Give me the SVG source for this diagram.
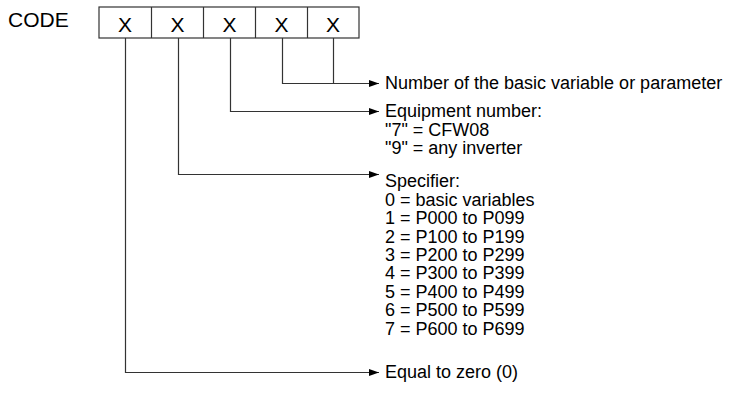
<svg xmlns="http://www.w3.org/2000/svg" width="732" height="399" viewBox="0 0 732 399">
<defs>
<style>
.t{font-family:"Liberation Sans",Arial,sans-serif;font-size:18px;fill:#000}
.x{font-family:"Liberation Sans",Arial,sans-serif;font-size:21px;fill:#000;text-anchor:middle}
.c{fill:none;stroke:#333;stroke-width:1.2}
.box{fill:#fff;stroke:#333;stroke-width:1.2}
</style>
<marker id="ah" viewBox="0 0 10 7" refX="10" refY="3.5" markerWidth="10" markerHeight="7" markerUnits="userSpaceOnUse" orient="auto">
<path d="M0,0 L10,3.5 L0,7 Z" fill="#000"/>
</marker>
</defs>
<rect width="732" height="399" fill="#fff"/>
<text class="t" x="8" y="27" style="font-size:21px">CODE</text>
<g id="code-box">
<rect class="box" x="99" y="7" width="260" height="31"/>
<line class="c" x1="151.5" y1="7" x2="151.5" y2="38"/>
<line class="c" x1="203.5" y1="7" x2="203.5" y2="38"/>
<line class="c" x1="255.5" y1="7" x2="255.5" y2="38"/>
<line class="c" x1="307.5" y1="7" x2="307.5" y2="38"/>
<text class="x" x="125" y="32">X</text>
<text class="x" x="177.5" y="32">X</text>
<text class="x" x="229.5" y="32">X</text>
<text class="x" x="281.5" y="32">X</text>
<text class="x" x="333" y="32">X</text>
</g>
<g id="connectors">
<path class="c" d="M282.5,38 V83.5 H379" marker-end="url(#ah)"/>
<path class="c" d="M333.5,38 V83.5"/>
<path class="c" d="M230.5,38 V111.5 H379" marker-end="url(#ah)"/>
<path class="c" d="M178.5,38 V174.5 H379" marker-end="url(#ah)"/>
<path class="c" d="M125.5,38 V372.5 H379" marker-end="url(#ah)"/>
</g>
<g id="label-number">
<text class="t" x="385" y="89">Number of the basic variable or parameter</text>
</g>
<g id="label-equipment">
<text class="t" x="385" y="117">Equipment number:</text>
<text class="t" x="385" y="136">"7" = CFW08</text>
<text class="t" x="385" y="154">"9" = any inverter</text>
</g>
<g id="label-specifier">
<text class="t" x="385" y="187">Specifier:</text>
<text class="t" x="385" y="206">0 = basic variables</text>
<text class="t" x="385" y="224">1 = P000 to P099</text>
<text class="t" x="385" y="243">2 = P100 to P199</text>
<text class="t" x="385" y="261">3 = P200 to P299</text>
<text class="t" x="385" y="279">4 = P300 to P399</text>
<text class="t" x="385" y="298">5 = P400 to P499</text>
<text class="t" x="385" y="316">6 = P500 to P599</text>
<text class="t" x="385" y="335">7 = P600 to P699</text>
</g>
<g id="label-zero">
<text class="t" x="385" y="378">Equal to zero (0)</text>
</g>
</svg>
